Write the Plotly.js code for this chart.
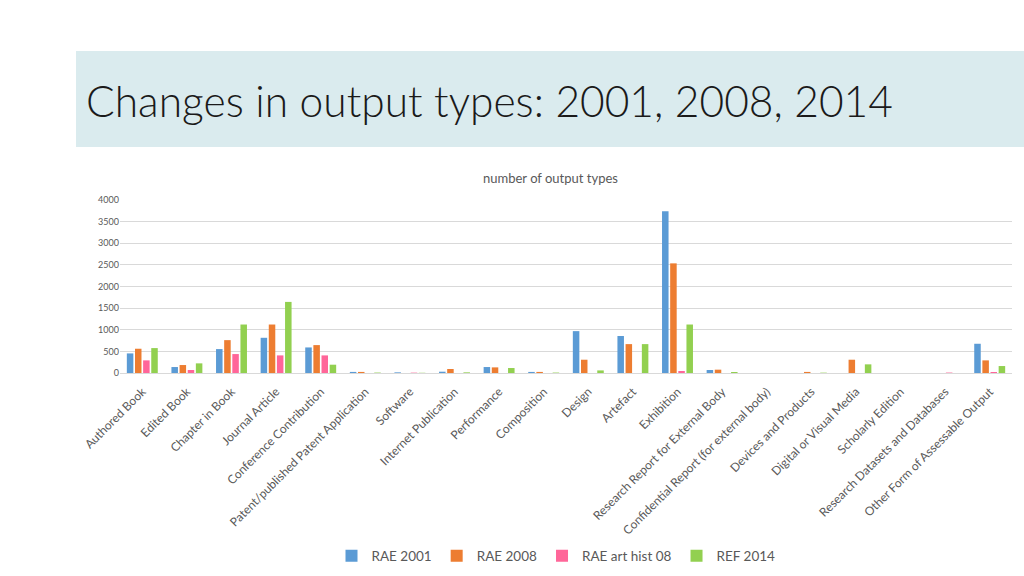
<!DOCTYPE html>
<html>
<head>
<meta charset="utf-8">
<script src="https://cdn.plot.ly/plotly-3.0.1.min.js"></script>
<style>
  html, body { margin: 0; padding: 0; background: #ffffff; }
  #chart { width: 1024px; height: 576px; }
</style>
</head>
<body>
<div id="chart"></div>
<script>
// Output categories
const categories = [
    "Authored Book", "Edited Book", "Chapter in Book", "Journal Article",
    "Conference Contribution", "Patent/published Patent Application", "Software",
    "Internet Publication", "Performance", "Composition", "Design", "Artefact",
    "Exhibition", "Research Report for External Body",
    "Confidential Report (for external body)", "Devices and Products",
    "Digital or Visual Media", "Scholarly Edition", "Research Datasets and Databases",
    "Other Form of Assessable Output"
];

// Series values
const rae2001 = [453, 138, 553, 814, 591, 25, 15, 30, 138, 25, 968, 855, 3740, 69, 0, 0, 0, 0, 0, 676];
const rae2008 = [561, 184, 760, 1121, 645, 25, 0, 92, 130, 25, 307, 668, 2535, 77, 0, 25, 307, 0, 0, 292];
const raeArtHist08 = [292, 69, 438, 407, 407, 0, 8, 0, 0, 0, 0, 0, 46, 0, 0, 0, 0, 0, 10, 23];
const ref2014 = [576, 223, 1121, 1644, 192, 10, 5, 15, 115, 10, 60, 668, 1121, 23, 0, 8, 200, 0, 0, 161];

const seriesNames = ["RAE 2001", "RAE 2008", "RAE art hist 08", "REF 2014"];
const seriesColors = ["#5b9bd5", "#ed7d31", "#ff6699", "#92d050"];

const yTicks = [0, 500, 1000, 1500, 2000, 2500, 3000, 3500, 4000];

// plot area in pixels
const W = 1024, H = 576;
const mL = 120, mR = 12, mT = 200, mB = 203;
const plotW = W - mL - mR, plotH = H - mT - mB;

// convert a pixel position on the page to paper coordinates
function px2x(px) { return (px - mL) / plotW; }
function py2y(py) { return (H - mB - py) / plotH; }

const allValues = [rae2001, rae2008, raeArtHist08, ref2014];

const data = allValues.map((vals, i) => ({
    type: "bar",
    name: seriesNames[i],
    x: categories,
    y: vals,
    marker: { color: seriesColors[i] },
    hoverinfo: "x+y+name"
}));

const layout = {
    width: W,
    height: H,
    margin: { l: mL, r: mR, t: mT, b: mB, pad: 0 },
    paper_bgcolor: "#ffffff",
    plot_bgcolor: "#ffffff",
    font: { family: "Lato, 'Open Sans', sans-serif", color: "#595959" },
    barmode: "group",
    bargap: 0.27,
    bargroupgap: 0.2,
    title: {
        text: "Changes in output types: 2001, 2008, 2014",
        x: 86 / W,
        xanchor: "left",
        xref: "container",
        y: 1 - 102 / H,
        yanchor: "middle",
        yref: "container",
        font: { family: "Lato, sans-serif", size: 42.5, color: "#1a1a1a", weight: 300 }
    },
    xaxis: {
        type: "category",
        tickangle: -45,
        tickfont: { size: 12, color: "#595959" },
        showline: true,
        linecolor: "#d9d9d9",
        linewidth: 1,
        ticks: "outside",
        ticklen: 6,
        tickcolor: "rgba(0,0,0,0)",
        showgrid: false,
        automargin: false
    },
    yaxis: {
        range: [0, 4000],
        tickvals: yTicks,
        ticktext: yTicks.map(String),
        tickfont: { size: 9, color: "#595959" },
        showgrid: true,
        gridcolor: "#d9d9d9",
        gridwidth: 1,
        zeroline: false,
        showline: false,
        ticks: "",
        ticklen: 0,
        automargin: false
    },
    legend: {
        orientation: "h",
        x: 0.5 - 10 / plotW,
        xanchor: "center",
        xref: "paper",
        y: (H - 556) / H,
        yref: "container",
        yanchor: "middle",
        font: { size: 13.5, color: "#595959" },
        itemwidth: 30,
        traceorder: "normal"
    },
    shapes: [
        {
            type: "rect",
            xref: "paper",
            yref: "paper",
            x0: px2x(76),
            x1: px2x(1024),
            y0: py2y(147),
            y1: py2y(51),
            fillcolor: "#daebee",
            line: { width: 0 },
            layer: "below"
        }
    ],
    annotations: [
        {
            text: "number of output types",
            xref: "paper",
            yref: "paper",
            x: px2x(550),
            y: py2y(178),
            xanchor: "center",
            yanchor: "middle",
            showarrow: false,
            font: { size: 13, color: "#595959" }
        }
    ]
};

Plotly.newPlot("chart", data, layout, { displayModeBar: false, staticPlot: true });
</script>
</body>
</html>
